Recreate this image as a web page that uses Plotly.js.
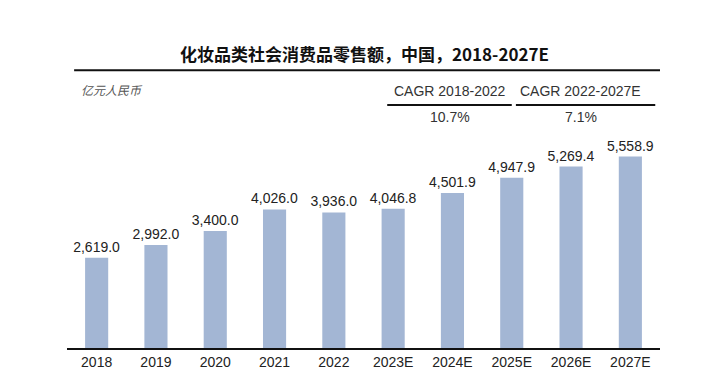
<!DOCTYPE html>
<html>
<head>
<meta charset="utf-8">
<script src="https://cdn.plot.ly/plotly-3.0.1.min.js"></script>
<style>html,body{margin:0;padding:0;background:#fff}#chart{width:701px;height:392px}</style>
</head>
<body>
<div id="chart"></div>
<script>
const years = ["2018","2019","2020","2021","2022","2023E","2024E","2025E","2026E","2027E"];
const sales = [2619.0, 2992.0, 3400.0, 4026.0, 3936.0, 4046.8, 4501.9, 4947.9, 5269.4, 5558.9];
const cagrHeaders = ["CAGR 2018-2022", "CAGR 2022-2027E"];
const cagrValues = ["10.7%", "7.1%"];
const titleText = "化妆品类社会消费品零售额，中国，2018-2027E";
const unitText = "亿元人民币";

const fmt = v => v.toLocaleString("en-US", {minimumFractionDigits: 1, maximumFractionDigits: 1});

const trace = {
  type: "bar",
  x: years,
  y: sales,
  marker: {color: "#A3B6D4"},
  text: sales.map(fmt),
  textposition: "outside",
  constraintext: "none",
  cliponaxis: false,
  textfont: {family: "Liberation Sans, Arial, sans-serif", size: 14, color: "#222"},
  outsidetextfont: {family: "Liberation Sans, Arial, sans-serif", size: 14, color: "#222"},
  hoverinfo: "none"
};

const cagrCenters = [0.646, 0.866];
const lineSpans = [[0.540, 0.750], [0.757, 0.992]];

const annotations = [
  {text: "<b>" + titleText + "</b>", xref: "paper", yref: "paper", x: 0.502, y: 1.22,
   xanchor: "center", yanchor: "middle", showarrow: false,
   font: {family: "Noto Sans CJK SC, Liberation Sans, sans-serif", size: 17, color: "#111"}},
  {text: "<i>" + unitText + "</i>", xref: "paper", yref: "paper", x: 0.020, y: 1.071,
   xanchor: "left", yanchor: "middle", showarrow: false,
   font: {family: "Noto Sans CJK SC, sans-serif", size: 12, color: "#555"}}
];
cagrHeaders.forEach((h, i) => annotations.push({
  text: h, xref: "paper", yref: "paper", x: cagrCenters[i], y: 1.066,
  xanchor: "center", yanchor: "middle", showarrow: false,
  font: {family: "Liberation Sans, Arial, sans-serif", size: 14, color: "#333"}
}));
cagrValues.forEach((v, i) => annotations.push({
  text: v, xref: "paper", yref: "paper", x: cagrCenters[i], y: 0.958,
  xanchor: "center", yanchor: "middle", showarrow: false,
  font: {family: "Liberation Sans, Arial, sans-serif", size: 14, color: "#333"}
}));

const shapes = [
  {type: "line", xref: "paper", yref: "paper", x0: 0.012, x1: 1.0, y0: 1.153, y1: 1.153,
   line: {color: "#111", width: 2}}
];
lineSpans.forEach(s => shapes.push({
  type: "line", xref: "paper", yref: "paper", x0: s[0], x1: s[1], y0: 1.008, y1: 1.008,
  line: {color: "#111", width: 2}
}));

const layout = {
  width: 701, height: 392,
  margin: {l: 67, r: 41, t: 107, b: 44},
  paper_bgcolor: "#fff", plot_bgcolor: "#fff",
  showlegend: false,
  bargap: 0.61,
  xaxis: {
    type: "category", range: [-0.5, 9.5], showline: true, linecolor: "#111", linewidth: 2,
    ticks: "", showgrid: false, zeroline: false,
    tickfont: {family: "Liberation Sans, Arial, sans-serif", size: 14, color: "#222"}
  },
  yaxis: {range: [0, 7000], visible: false, showgrid: false, zeroline: false},
  annotations: annotations,
  shapes: shapes
};

Plotly.newPlot("chart", [trace], layout, {displayModeBar: false, staticPlot: true});
</script>
</body>
</html>
